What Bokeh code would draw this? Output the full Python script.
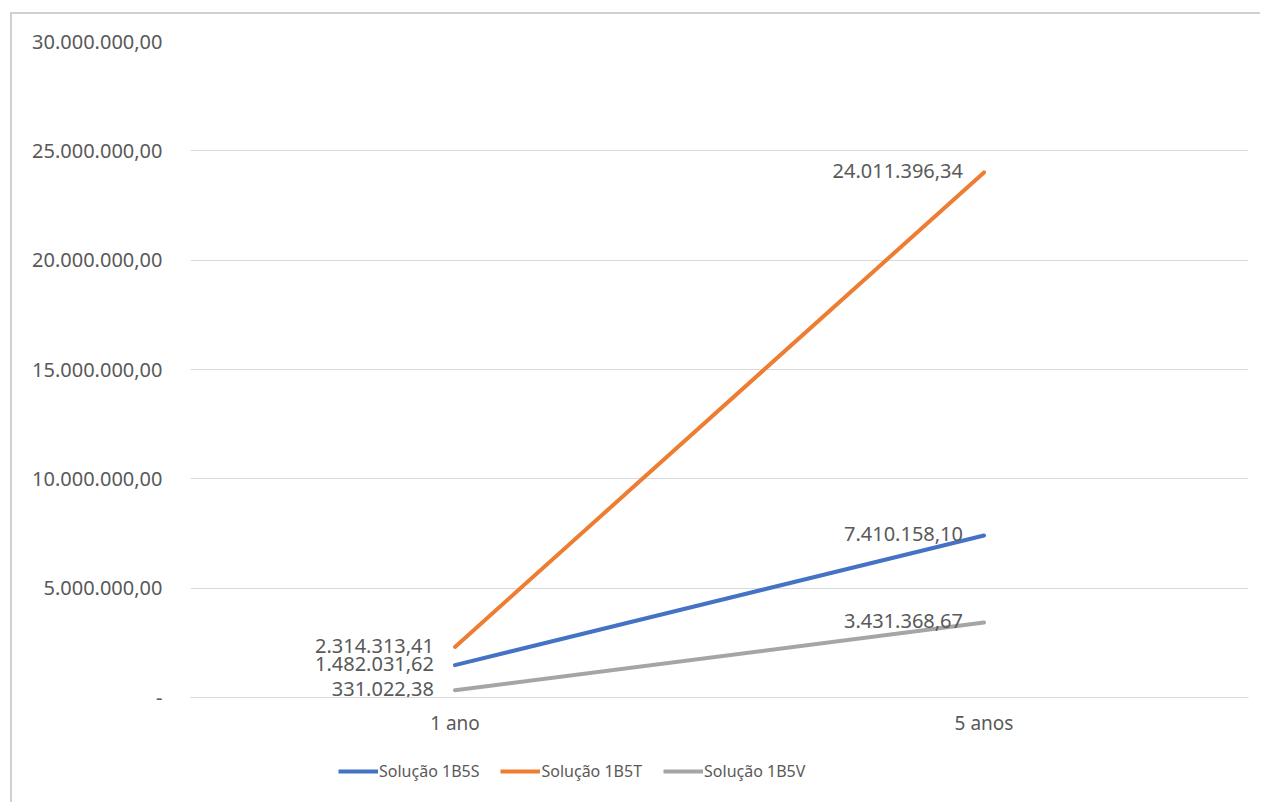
from bokeh.plotting import figure
from bokeh.models import FixedTicker, Legend, LegendItem, ColumnDataSource, Range1d
from bokeh.layouts import column
from bokeh.core.properties import value
from bokeh.embed import file_html
from bokeh.resources import INLINE

categories = ["1 ano", "5 anos"]
series_names = ["Solução 1B5S", "Solução 1B5T", "Solução 1B5V"]
values_1b5s = [1482031.62, 7410158.10]
values_1b5t = [2314313.41, 24011396.34]
values_1b5v = [331022.38, 3431368.67]
y_ticks = [0, 5000000, 10000000, 15000000, 20000000, 25000000, 30000000]
y_tick_labels = ["-", "5.000.000,00", "10.000.000,00", "15.000.000,00",
                 "20.000.000,00", "25.000.000,00", "30.000.000,00"]
colors = ["#4472C4", "#ED7D31", "#A5A5A5"]

FONT = "Noto Sans"
TXT = "#595959"
BORDER = "2px solid #d0d0d0"


def fmt_br(v):
    s = f"{v:,.2f}"
    return s.replace(",", "X").replace(".", ",").replace("X", ".")


p = figure(x_range=categories, y_range=Range1d(0, 30000000),
           width=1250, height=724, output_backend="svg", toolbar_location=None,
           min_border_left=178, min_border_top=27, min_border_right=14,
           min_border_bottom=37)
p.styles = {"margin-left": "10px", "margin-top": "12px",
            "border-left": BORDER, "border-top": BORDER}
p.outline_line_color = None
p.background_fill_color = "white"
p.border_fill_color = "white"

sources = []
for name, vals, col in zip(series_names, [values_1b5s, values_1b5t, values_1b5v], colors):
    src = ColumnDataSource(dict(x=categories, y=vals, lab=[fmt_br(v) for v in vals]))
    sources.append(src)
    p.line("x", "y", source=src, line_color=col, line_width=4, line_cap="round")
    p.text("x", "y", text="lab", source=src, text_align="right", text_baseline="middle",
           x_offset=-21, y_offset=-1, text_color=TXT, text_font=value(FONT),
           text_font_size="20px")

p.yaxis.ticker = FixedTicker(ticks=y_ticks)
p.yaxis.major_label_overrides = {t: l for t, l in zip(y_ticks, y_tick_labels)}
p.yaxis.axis_line_color = None
p.yaxis.major_tick_line_color = None
p.yaxis.minor_tick_line_color = None
p.yaxis.major_label_standoff = 22
p.yaxis.major_label_text_font = FONT
p.yaxis.major_label_text_font_size = "20px"
p.yaxis.major_label_text_color = TXT

p.xaxis.axis_line_color = "#d9d9d9"
p.xaxis.axis_line_width = 1
p.xaxis.major_tick_line_color = None
p.xaxis.minor_tick_line_color = None
p.xaxis.major_label_standoff = 6
p.xaxis.major_label_text_font = FONT
p.xaxis.major_label_text_font_size = "19px"
p.xaxis.major_label_text_color = TXT

p.xgrid.grid_line_color = None
p.ygrid.grid_line_color = "#d9d9d9"
p.ygrid.grid_line_width = 1

# legend strip below the chart (series lines lie outside its view range)
pl = figure(x_range=categories, y_range=Range1d(-2, -1),
            width=1250, height=66, output_backend="svg", toolbar_location=None,
            x_axis_location=None, y_axis_location=None,
            min_border_left=0, min_border_right=0, min_border_top=0, min_border_bottom=0)
pl.styles = {"margin-left": "10px", "border-left": BORDER}
pl.outline_line_color = None
pl.xgrid.grid_line_color = None
pl.ygrid.grid_line_color = None
pl.border_fill_color = "white"

items = []
for name, col, src in zip(series_names, colors, sources):
    r = pl.line("x", "y", source=src, line_color=col, line_width=4)
    items.append(LegendItem(label=name, renderers=[r]))

legend = Legend(items=items, orientation="horizontal", location=(148, 20),
                label_text_font=FONT, label_text_font_size="16px",
                label_text_color=TXT, glyph_width=40, glyph_height=20,
                label_standoff=1, spacing=21, padding=0, margin=0,
                border_line_color=None, background_fill_alpha=0)
pl.add_layout(legend, "center")

layout = column(p, pl, spacing=0)
open("out.html", "w").write(file_html(layout, INLINE))
